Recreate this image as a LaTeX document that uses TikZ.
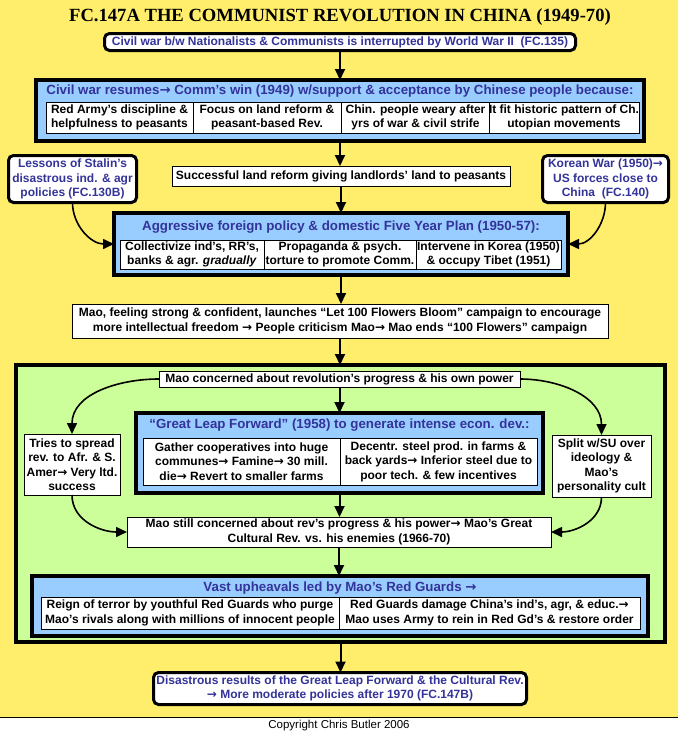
\documentclass[tikz,border=0pt]{standalone}
\usepackage{fontspec}
\setmainfont{Liberation Sans}
\newfontfamily\titlefont{Liberation Serif}
\newfontfamily\arrfont{DejaVu Sans}
\usetikzlibrary{arrows.meta}
\definecolor{bgyellow}{HTML}{FFEE6B}
\definecolor{boxblue}{HTML}{99CCFF}
\definecolor{boxgreen}{HTML}{CCFF99}
\definecolor{txtblue}{HTML}{333399}
\newcommand{\rarr}{{\arrfont\bfseries\char"2192}}
\begin{document}
\begin{tikzpicture}[x=1pt,y=-1pt,
  every node/.style={inner sep=0pt, outer sep=0pt},
  fs/.style={font=\fontsize{12}{14.5}\selectfont\bfseries},
  bluetxt/.style={fs, text=txtblue, align=center},
  headtxt/.style={font=\fontsize{13.3}{15}\selectfont\bfseries, text=txtblue, align=center},
  blacktxt/.style={fs, text=black, align=center},
  roundbox/.style={draw=black, line width=3pt, rounded corners=5pt, fill=white, bluetxt},
  plainbox/.style={draw=black, line width=1pt, fill=white, blacktxt},
  bigbox/.style={draw=black, line width=4pt, fill=boxblue},
  cell/.style={draw=black, line width=1pt, fill=white, blacktxt},
  arr/.style={line width=2pt, -{Triangle[length=11pt,width=10pt]}},
  carr/.style={line width=1.6pt, -{Triangle[length=11pt,width=10pt]}},
]
\useasboundingbox (0,0) rectangle (678,734);
\fill[white] (0,0) rectangle (678,734);
\fill[bgyellow] (0,0) rectangle (678,717);
\draw[line width=1pt] (0,717) -- (678,717);

\node[anchor=base, font=\titlefont\bfseries\fontsize{18.6}{22}\selectfont] (title) at (340,21) {FC.147A THE COMMUNIST REVOLUTION IN CHINA (1949-70)};

\node[roundbox, minimum width=471, minimum height=17] (b1) at (340,42) {Civil war b/w Nationalists \& Communists is interrupted by World War II\ \ (FC.135)};

\node[bigbox, minimum width=608, minimum height=61] (b2) at (340,110.5) {};
\node[headtxt] (b2t) at (340,91) {Civil war resumes\rarr{} Comm’s win (1949) w/support \& acceptance by Chinese people because:};
\node[cell, minimum width=147, minimum height=31] (b2c1) at (119.5,117.5) {Red Army’s discipline \&\\helpfulness to peasants};
\node[cell, minimum width=148, minimum height=31] (b2c2) at (267,117.5) {Focus on land reform \&\\peasant-based Rev.};
\node[cell, minimum width=149, minimum height=31] (b2c3) at (415.5,117.5) {Chin. people weary after\\yrs of war \& civil strife};
\node[cell, minimum width=148, minimum height=31] (b2c4) at (564,117.5) {It fit historic pattern of Ch.\\utopian movements};

\node[plainbox, minimum width=338, minimum height=20] (land) at (341,176) {Successful land reform giving landlords’ land to peasants};

\node[roundbox, minimum width=128, minimum height=47] (stalin) at (72.5,179) {Lessons of Stalin’s\\disastrous ind. \& agr\\policies (FC.130B)};
\node[roundbox, minimum width=126, minimum height=47] (korea) at (605.5,179) {Korean War (1950)\rarr\\US forces close to\\China\ \ (FC.140)};

\node[bigbox, minimum width=454, minimum height=62] (b3) at (341,244) {};
\node[headtxt] (b3t) at (341,227) {Aggressive foreign policy \& domestic Five Year Plan (1950-57):};
\node[cell, minimum width=144, minimum height=29] (b3c1) at (192,254.5) {Collectivize ind’s, RR’s,\\banks \& agr. \textit{gradually}};
\node[cell, minimum width=152, minimum height=29] (b3c2) at (340,254.5) {Propaganda \& psych.\\torture to promote Comm.};
\node[cell, minimum width=145, minimum height=29] (b3c3) at (488.5,254.5) {Intervene in Korea (1950)\\\& occupy Tibet (1951)};

\node[plainbox, minimum width=536, minimum height=34] (flow) at (340,321) {Mao, feeling strong \& confident, launches “Let 100 Flowers Bloom” campaign to encourage\\more intellectual freedom \rarr{} People criticism Mao\rarr{} Mao ends “100 Flowers” campaign};

\node[draw=black, line width=4pt, fill=boxgreen, minimum width=649, minimum height=277] (green) at (340.5,503.5) {};

\node[plainbox, minimum width=361, minimum height=16] (maoc) at (339.5,379) {Mao concerned about revolution’s progress \& his own power};

\node[bigbox, minimum width=407, minimum height=80] (glf) at (339.5,453) {};
\node[headtxt] (glft) at (339.5,425) {“Great Leap Forward” (1958) to generate intense econ. dev.:};
\node[cell, minimum width=197, minimum height=47] (glfc1) at (241.5,461.5) {Gather cooperatives into huge\\communes\rarr{} Famine\rarr{} 30 mill.\\die\rarr{} Revert to smaller farms};
\node[cell, minimum width=197, minimum height=47] (glfc2) at (438.5,461.5) {Decentr. steel prod. in farms \&\\back yards\rarr{} Inferior steel due to\\poor tech. \& few incentives};

\node[plainbox, minimum width=96, minimum height=61] (tries) at (72,464.5) {Tries to spread\\rev. to Afr. \& S.\\Amer\rarr{} Very ltd.\\success};
\node[plainbox, minimum width=99, minimum height=62] (split) at (601.5,466) {Split w/SU over\\ideology \&\\Mao’s\\personality cult};

\node[plainbox, minimum width=424, minimum height=30] (maos) at (339,532) {Mao still concerned about rev’s progress \& his power\rarr{} Mao’s Great\\Cultural Rev. vs. his enemies (1966-70)};

\node[bigbox, minimum width=616, minimum height=60] (rg) at (340,606) {};
\node[headtxt] (rgt) at (340,588) {Vast upheavals led by Mao’s Red Guards \rarr};
\node[cell, minimum width=298, minimum height=32] (rgc1) at (190,613) {Reign of terror by youthful Red Guards who purge\\Mao’s rivals along with millions of innocent people};
\node[cell, minimum width=301, minimum height=32] (rgc2) at (489.5,613) {Red Guards damage China’s ind’s, agr, \& educ.\rarr\\Mao uses Army to rein in Red Gd’s \& restore order};

\node[roundbox, minimum width=373, minimum height=32] (dis) at (340,688.5) {Disastrous results of the Great Leap Forward \& the Cultural Rev.\\\rarr{} More moderate policies after 1970 (FC.147B)};

\node[font=\fontsize{11.5}{13}\selectfont] (copy) at (339,726) {Copyright Chris Butler 2006};

\draw[arr] (b1.south) -- (b1.south |- b2.north);
\draw[arr] (b2.south) -- (b2.south |- land.north);
\draw[arr] (land.south) -- (land.south |- b3.north);
\draw[arr] (b3.south) -- (b3.south |- flow.north);
\draw[arr] (flow.south) -- (flow.south |- green.north);
\draw[arr] (maoc.south) -- (maoc.south |- glf.north);
\draw[arr] (glf.south) -- (glf.south |- maos.north);
\draw[arr] (maos.south) -- (maos.south |- rg.north);
\draw[arr] (green.south) -- (green.south |- dis.north);

\draw[carr] (stalin.south) to[out=-90,in=180] (b3.west);
\draw[carr] (korea.south) to[out=-90,in=0] (b3.east);
\draw[carr] (maoc.west) to[out=180,in=90] (tries.north);
\draw[carr] (maoc.east) to[out=0,in=90] (split.north);
\draw[carr] (tries.south) to[out=-90,in=180] (maos.west);
\draw[carr] (split.south) to[out=-90,in=0] (maos.east);
\end{tikzpicture}
\end{document}
